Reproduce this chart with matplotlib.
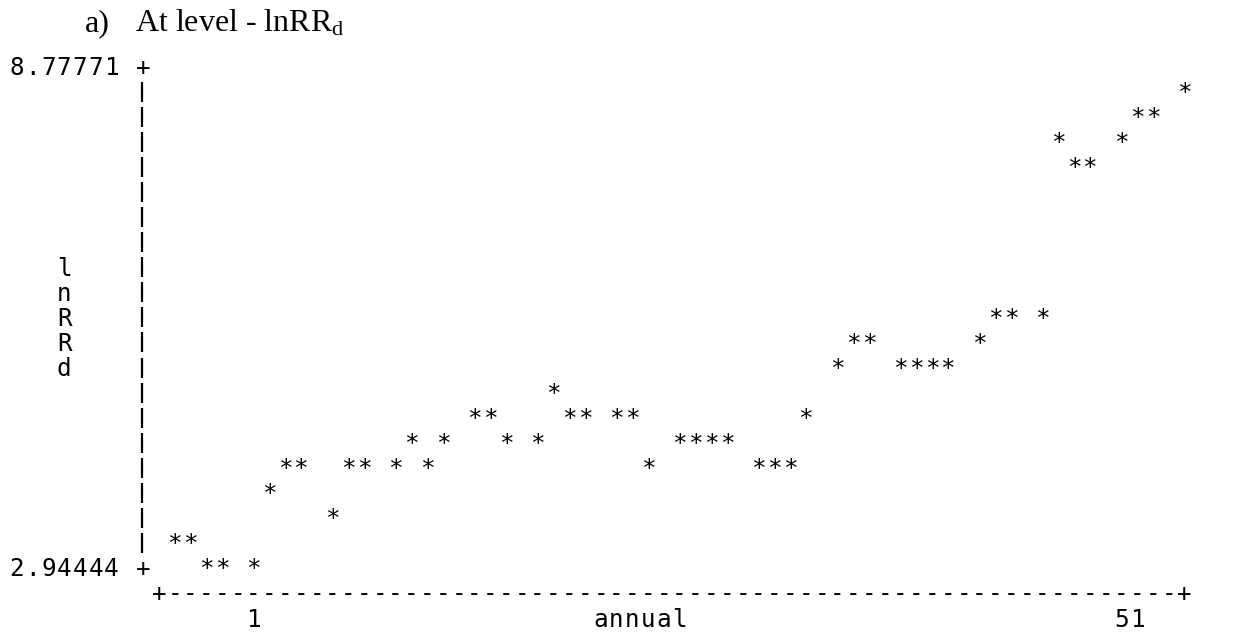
import math
import matplotlib
matplotlib.use("Agg")
import matplotlib.pyplot as plt

# Stata-style character plot of lnRRd against annual (51 observations)
years = list(range(1, 52))
lnrrd = [3.236, 3.236, 2.944, 2.944, 2.944, 3.820, 4.111, 4.111, 3.528, 4.111,
         4.111, 4.111, 4.403, 4.111, 4.403, 4.694, 4.694, 4.403, 4.403, 4.986,
         4.694, 4.694, 4.694, 4.694, 4.111, 4.403, 4.403, 4.403, 4.403, 4.111,
         4.111, 4.111, 4.694, 5.278, 5.569, 5.569, 5.278, 5.278, 5.278, 5.278,
         5.569, 5.861, 5.861, 5.861, 7.903, 7.611, 7.611, 7.903, 8.194, 8.194,
         8.486]
y_labels = ["8.77771", "2.94444"]
x_labels = ["1", "51"]
y_title = "lnRRd"
x_title = "annual"
title_num = "a)"
title_text = r"At level - lnRR$_{\mathrm{d}}$"

Y_MIN, Y_MAX = 2.94444, 8.77771
N_ROWS = 20      # rows 0..20 between the two y labels
N_COLS = 64      # columns 0..64 for the data

W, H = 1241, 632
CW, RH = 15.78, 25.07     # character cell in pixels
X0, Y0 = 174.6, 66.7      # pixel position of column 0 / row 0
MONO = "DejaVu Sans Mono"
FS = 17.5
BASE = 0.33               # baseline offset below row centre (rows)

plt.rcParams["mathtext.fontset"] = "custom"
plt.rcParams["mathtext.rm"] = "Liberation Serif"
plt.rcParams["mathtext.it"] = "Liberation Serif:italic"


def to_col(year):
    return math.floor((year - years[0]) * N_COLS / (years[-1] - years[0]) + 1e-9)


def to_row(v):
    return round((Y_MAX - v) / (Y_MAX - Y_MIN) * N_ROWS)


def put(ax, col, row, s):
    # one character per cell, like a terminal
    for k, ch in enumerate(s):
        if ch == " ":
            continue
        ax.text(col + k, row + BASE, ch, ha="center", va="baseline",
                fontsize=FS, family=MONO, color="black")


fig = plt.figure(figsize=(W / 100, H / 100), dpi=100)
ax = fig.add_axes([0, 0, 1, 1])
ax.set_xlim(-X0 / CW, (W - X0) / CW)
ax.set_ylim((H - Y0) / RH, -Y0 / RH)
ax.axis("off")

# y axis: "|" in every row between the two labelled rows
put(ax, -10, 0, y_labels[0] + " +")
put(ax, -10, N_ROWS, y_labels[1] + " +")
bar_rows = list(range(1, N_ROWS))
ax.vlines([-2.07] * len(bar_rows), [r - 0.4 for r in bar_rows],
          [r + 0.4 for r in bar_rows], color="black", linewidth=1.6)
for k, ch in enumerate(y_title):
    put(ax, -7, 8 + k, ch)

# x axis
put(ax, -1, N_ROWS + 1, "+" + "-" * N_COLS + "+")
put(ax, 5, N_ROWS + 2, x_labels[0])
put(ax, 60, N_ROWS + 2, x_labels[1])
put(ax, 27, N_ROWS + 2, x_title)

# points
for yr, v in zip(years, lnrrd):
    put(ax, to_col(yr), to_row(v), "*")

# caption above the plot
fig.text(85 / W, 1 - 31.7 / H, title_num, ha="left", va="baseline",
         fontsize=23, family="Liberation Serif")
fig.text(135 / W, 1 - 31.7 / H, title_text, ha="left", va="baseline",
         fontsize=23, family="Liberation Serif")

fig.savefig("out.png", dpi=100)
